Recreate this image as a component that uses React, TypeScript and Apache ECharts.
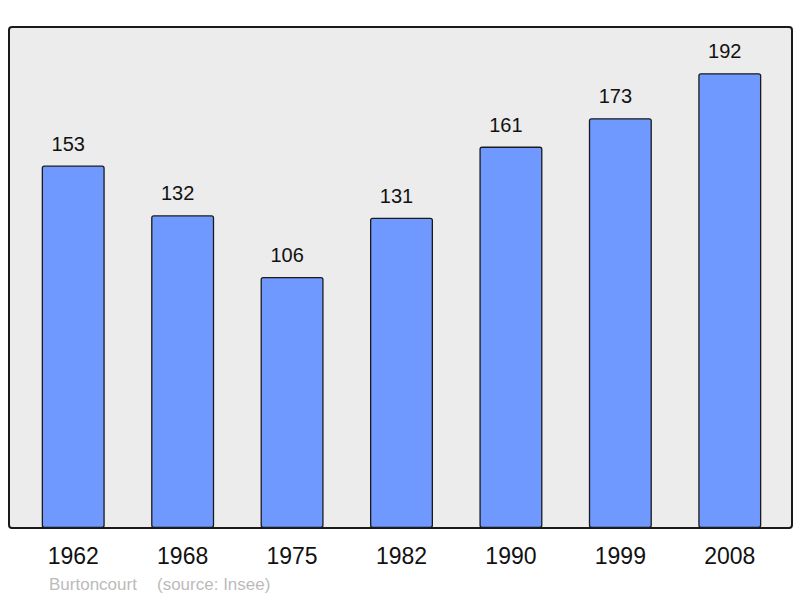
import React, { useEffect, useRef } from "react";
import * as echarts from "echarts";

const years = ["1962", "1968", "1975", "1982", "1990", "1999", "2008"];
const population = [153, 132, 106, 131, 161, 173, 192];
const townName = "Burtoncourt";
const sourceText = "(source: Insee)";

export default function App() {
  const ref = useRef<HTMLDivElement>(null);
  useEffect(() => {
    if (!ref.current) return;
    const chart = echarts.init(ref.current, null, { renderer: "svg" });
    const font = "'Liberation Sans', Arial, sans-serif";
    chart.setOption({
      animation: false,
      backgroundColor: "#ffffff",
      textStyle: { fontFamily: font },
      grid: { left: 18.5, right: 15.5, top: 27, bottom: 70, containLabel: false },
      xAxis: {
        type: "category",
        data: years,
        axisLine: { show: false },
        axisTick: { show: false },
        axisLabel: { color: "#111", fontSize: 23, margin: 16, fontFamily: font },
      },
      yAxis: {
        type: "value",
        min: 0,
        max: 211.5,
        show: false,
        splitLine: { show: false },
      },
      graphic: [
        {
          type: "rect",
          z: -10,
          shape: { x: 9, y: 27, width: 783, height: 501, r: 3 },
          style: { fill: "#ececec", stroke: "#1a1a1a", lineWidth: 2 },
        },
        {
          type: "text",
          left: 49,
          top: 576,
          style: { text: townName, fill: "#bbbbbb", fontSize: 17, fontFamily: font },
        },
        {
          type: "text",
          left: 157,
          top: 576,
          style: { text: sourceText, fill: "#bbbbbb", fontSize: 17, fontFamily: font },
        },
      ],
      series: [
        {
          type: "bar",
          data: population,
          barWidth: 63,
          z: 5,
          itemStyle: {
            color: "#7099ff",
            borderColor: "#1a1a1a",
            borderWidth: 1.3,
            borderRadius: 2,
          },
          label: {
            show: true,
            position: "top",
            distance: 12,
            offset: [-5, 0],
            color: "#111",
            fontSize: 20,
            fontFamily: font,
          },
        },
      ],
    });
    return () => chart.dispose();
  }, []);
  return (
    <div
      ref={ref}
      style={{ position: "fixed", left: 0, top: 0, width: 800, height: 598 }}
    />
  );
}
